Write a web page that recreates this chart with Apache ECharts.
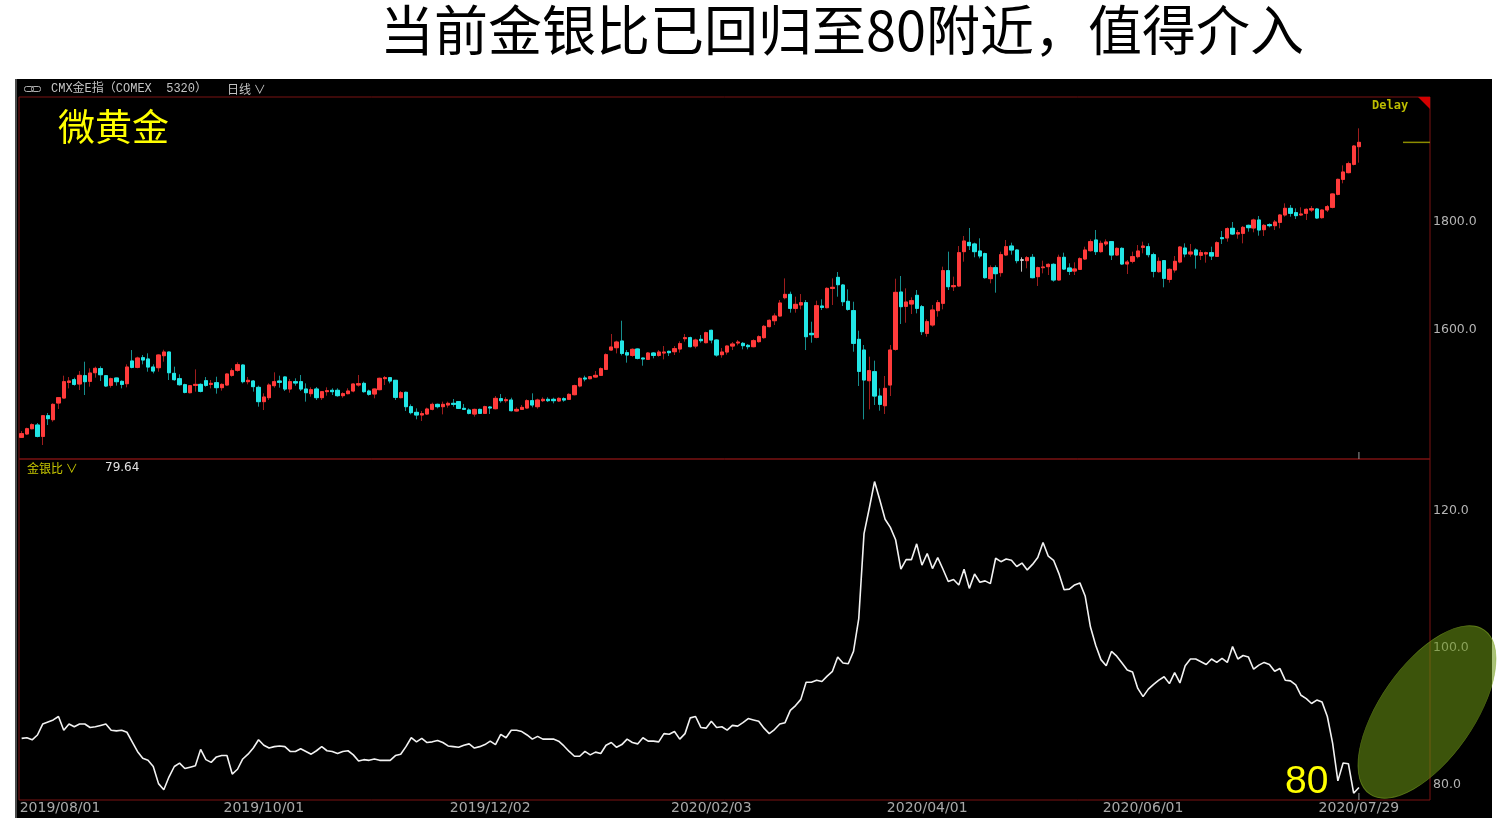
<!DOCTYPE html>
<html><head><meta charset="utf-8">
<script src="https://cdn.jsdelivr.net/npm/echarts@6/dist/echarts.min.js"></script>
<style>html,body{margin:0;padding:0;background:#fff;}#c{width:1499px;height:822px;}</style>
</head><body><div id="c"></div>
<script>
// ---- Data ----
const titleText = '当前金银比已回归至80附近，值得介入';
const labelDates = ['2019/08/01','2019/10/01','2019/12/02','2020/02/03','2020/04/01','2020/06/01','2020/07/29'];
const holidays = ['2019/09/02','2019/11/28','2019/12/25','2020/01/01','2020/01/20','2020/02/17','2020/04/10','2020/05/25','2020/07/03'];
const priceTicks = [1600, 1800];
const ratioTicks = [80, 100, 120];

const opens = [
1401.2,1407.4,1417.2,1424.0,1403.0,1441.3,1433.9,1464.8,1474.0,1503.0,
1508.0,1500.0,1515.4,1504.9,1520.9,1528.4,1515.4,1497.5,1511.1,1504.9,
1500.6,1542.6,1530.8,1548.7,1546.3,1531.4,1530.2,1552.4,1559.2,1519.7,
1509.8,1498.7,1483.9,1497.5,1499.3,1506.1,1499.3,1502.4,1493.2,1498.1,
1516.0,1525.3,1535.1,1504.3,1505.5,1493.8,1467.3,1474.7,1496.9,1505.5,
1513.0,1490.7,1504.3,1504.3,1490.7,1482.1,1490.7,1474.7,1485.8,1488.3,
1488.3,1478.4,1482.1,1487.0,1498.1,1501.2,1487.0,1481.5,1489.5,1509.9,
1511.7,1506.8,1474.7,1484.6,1458.0,1447.5,1442.6,1444.4,1453.1,1462.3,
1458.0,1461.1,1464.2,1467.3,1454.9,1451.8,1444.4,1453.0,1445.6,1457.4,
1454.3,1472.8,1469.1,1470.3,1450.0,1453.0,1455.5,1469.1,1458.0,1469.1,
1471.6,1471.6,1468.5,1472.8,1471.6,1480.2,1496.3,1511.1,1509.8,1512.9,
1516.0,1527.1,1562.9,1567.2,1579.6,1558.0,1553.0,1564.8,1548.1,1545.6,
1557.4,1553.0,1557.4,1560.5,1559.8,1564.8,1583.9,1585.8,1570.3,1582.7,
1576.5,1599.4,1581.4,1554.3,1559.2,1570.3,1575.9,1575.3,1571.6,1569.1,
1578.4,1585.8,1606.2,1617.2,1625.9,1659.8,1666.0,1640.1,1646.3,1650.6,
1593.8,1586.4,1644.4,1641.3,1677.1,1697.5,1683.3,1653.1,1635.8,1582.7,
1562.9,1506.1,1522.8,1477.7,1459.8,1498.1,1564.2,1670.3,1643.8,1648.1,
1664.2,1643.2,1593.8,1609.3,1635.8,1649.4,1709.9,1680.2,1681.5,1745.1,
1762.3,1759.3,1746.3,1741.4,1695.1,1715.4,1706.2,1738.9,1755.5,1748.1,
1729.6,1728.4,1734.6,1698.8,1715.4,1717.3,1721.6,1692.6,1734.6,1714.8,
1709.2,1712.3,1731.5,1746.9,1766.7,1745.1,1759.3,1763.6,1738.9,1751.2,
1722.2,1727.2,1735.8,1753.1,1754.3,1739.5,1708.0,1728.4,1693.8,1711.1,
1725.9,1751.8,1740.7,1748.2,1738.3,1740.7,1743.2,1736.4,1771.0,1770.4,
1788.3,1777.8,1779.0,1793.8,1788.9,1803.7,1785.8,1795.1,1793.2,1799.4,
1813.0,1825.3,1817.3,1813.0,1816.1,1822.2,1824.1,1808.0,1822.2,1827.2,
1851.2,1879.0,1891.4,1906.8,1939.5
];
const closes = [
1408.0,1417.2,1424.7,1403.0,1441.3,1435.8,1462.3,1474.7,1504.3,1505.5,
1499.3,1516.0,1504.3,1520.3,1529.0,1517.2,1496.3,1509.8,1504.3,1499.3,
1531.4,1530.8,1548.1,1544.4,1531.4,1524.0,1553.7,1559.2,1520.9,1508.0,
1498.7,1484.5,1496.9,1499.3,1486.4,1497.5,1501.2,1493.2,1499.3,1518.5,
1524.7,1535.8,1504.3,1506.8,1495.1,1467.3,1475.9,1498.1,1504.3,1503.1,
1490.7,1504.3,1501.8,1490.7,1483.9,1489.5,1474.7,1485.8,1487.6,1485.8,
1478.4,1482.1,1487.0,1500.0,1500.6,1485.8,1480.9,1490.7,1510.5,1511.7,
1505.5,1475.3,1483.9,1458.0,1446.9,1442.6,1445.1,1453.7,1462.3,1458.0,
1462.3,1464.2,1462.3,1454.9,1453.1,1445.7,1453.0,1445.6,1458.0,1455.5,
1473.4,1469.1,1470.9,1450.6,1453.0,1456.7,1469.1,1461.1,1470.3,1471.6,
1469.1,1469.1,1473.4,1470.3,1480.8,1496.9,1510.5,1509.2,1513.5,1516.0,
1528.4,1554.3,1568.5,1577.7,1556.7,1553.7,1564.2,1547.5,1546.3,1557.4,
1553.0,1559.2,1559.2,1558.0,1565.4,1574.7,1585.8,1569.1,1581.4,1580.2,
1595.0,1581.4,1553.7,1559.2,1570.3,1574.0,1577.7,1571.0,1569.1,1580.2,
1587.6,1606.8,1617.9,1625.9,1650.0,1666.0,1640.1,1647.5,1650.6,1587.6,
1591.3,1645.0,1641.9,1677.1,1679.0,1683.9,1652.4,1638.2,1575.3,1523.4,
1507.4,1524.7,1477.7,1462.3,1491.9,1562.9,1669.7,1643.2,1651.8,1654.3,
1640.1,1596.9,1615.4,1637.0,1650.6,1709.9,1680.2,1682.1,1743.2,1764.8,
1756.2,1745.1,1737.0,1696.9,1715.4,1704.3,1739.5,1754.3,1748.1,1728.4,
1729.6,1733.9,1696.9,1715.4,1716.7,1721.6,1692.6,1734.6,1712.9,1708.6,
1713.0,1732.1,1748.1,1763.6,1745.1,1760.5,1763.0,1738.9,1751.2,1722.2,
1725.9,1735.8,1746.3,1755.5,1739.5,1708.6,1727.2,1695.7,1712.3,1727.2,
1753.7,1740.7,1744.4,1738.9,1743.2,1743.2,1737.0,1761.7,1769.1,1787.7,
1777.8,1780.3,1790.1,1789.5,1803.7,1785.2,1793.8,1793.2,1800.0,1813.0,
1825.3,1816.1,1811.8,1814.8,1823.5,1824.7,1807.4,1822.2,1828.4,1851.9,
1879.0,1892.6,1908.0,1940.7,1947.5
];
const lows = [
1400.0,1405.5,1416.0,1401.2,1387.0,1424.0,1430.2,1453.7,1473.4,1491.9,
1496.9,1488.8,1479.6,1495.0,1511.7,1505.5,1494.4,1493.2,1496.9,1491.9,
1493.8,1529.0,1529.0,1536.4,1522.8,1519.7,1522.8,1541.3,1507.4,1506.1,
1496.9,1482.7,1482.7,1485.8,1484.5,1495.0,1491.9,1482.1,1487.6,1496.9,
1513.5,1522.8,1501.2,1499.4,1485.8,1458.0,1451.8,1470.4,1493.2,1493.2,
1487.0,1483.9,1496.9,1487.0,1467.3,1476.5,1470.4,1470.4,1478.4,1479.6,
1476.5,1474.7,1480.9,1484.6,1495.1,1483.9,1478.4,1473.5,1488.3,1498.1,
1501.2,1470.4,1473.5,1450.0,1443.8,1434.6,1431.5,1442.6,1451.2,1454.9,
1443.8,1456.2,1458.0,1453.7,1451.8,1443.8,1439.5,1444.4,1444.4,1444.4,
1453.0,1465.4,1465.4,1449.3,1448.7,1451.8,1454.3,1456.7,1454.3,1466.6,
1466.6,1464.2,1466.6,1467.2,1470.3,1479.0,1493.8,1504.9,1508.6,1511.7,
1514.8,1525.9,1561.7,1556.7,1553.0,1539.5,1550.6,1545.6,1533.9,1544.4,
1547.5,1550.6,1545.6,1551.8,1553.7,1558.0,1578.4,1567.9,1566.0,1576.5,
1575.3,1575.3,1550.6,1548.7,1554.3,1562.9,1571.6,1564.2,1564.2,1567.9,
1576.5,1583.9,1604.9,1609.2,1624.7,1656.8,1632.1,1632.1,1638.2,1562.9,
1576.5,1584.5,1637.0,1640.1,1646.3,1661.7,1644.4,1635.8,1559.8,1496.3,
1434.5,1453.0,1461.1,1450.6,1444.4,1477.7,1561.7,1611.1,1613.5,1629.6,
1630.8,1590.7,1587.6,1606.2,1624.7,1638.3,1674.1,1672.2,1680.2,1726.5,
1748.1,1734.6,1732.7,1695.1,1686.4,1669.1,1698.8,1737.0,1739.5,1723.5,
1708.0,1714.2,1695.7,1681.5,1704.9,1701.8,1689.5,1691.4,1711.1,1701.8,
1701.8,1711.1,1729.6,1745.1,1738.9,1743.2,1755.5,1729.6,1737.0,1720.4,
1703.7,1723.5,1732.7,1742.0,1734.6,1697.5,1706.2,1679.0,1687.7,1706.2,
1723.5,1734.6,1735.8,1713.6,1729.6,1724.7,1729.6,1735.2,1759.3,1763.6,
1775.9,1769.1,1760.5,1782.1,1780.9,1774.7,1774.1,1790.1,1785.2,1788.3,
1809.9,1809.9,1805.6,1811.1,1803.7,1818.5,1805.6,1806.2,1818.5,1825.3,
1849.4,1871.6,1890.1,1904.9,1909.9
];
const highs = [
1412.9,1419.1,1427.1,1427.7,1442.6,1446.3,1464.2,1475.9,1515.4,1512.9,
1511.7,1524.0,1541.3,1529.0,1532.1,1532.7,1516.6,1511.7,1511.7,1506.7,
1536.4,1562.9,1550.6,1553.7,1556.8,1536.4,1554.9,1563.5,1559.8,1532.1,
1517.9,1500.6,1498.1,1527.1,1501.2,1512.9,1507.4,1513.5,1501.2,1519.7,
1529.0,1540.1,1536.4,1513.0,1507.4,1496.9,1482.7,1501.2,1521.6,1515.4,
1514.2,1509.3,1510.5,1516.7,1501.2,1493.8,1494.4,1487.0,1493.8,1492.0,
1492.0,1484.6,1492.0,1501.2,1516.7,1504.3,1489.5,1492.0,1511.7,1514.8,
1513.0,1507.4,1487.0,1485.8,1462.3,1454.9,1450.0,1456.2,1465.4,1463.6,
1467.3,1467.3,1472.2,1468.5,1462.9,1454.9,1454.3,1454.3,1459.8,1459.2,
1477.7,1481.4,1475.3,1474.6,1456.7,1461.1,1471.6,1482.7,1472.8,1475.3,
1475.3,1474.6,1475.3,1475.3,1482.7,1498.7,1512.3,1515.4,1514.8,1524.0,
1530.8,1556.7,1592.6,1580.2,1617.2,1562.9,1566.0,1566.0,1548.7,1559.2,
1559.2,1562.9,1570.3,1561.7,1570.3,1579.0,1592.6,1587.6,1583.9,1590.7,
1596.9,1600.6,1582.7,1566.6,1571.6,1577.7,1581.4,1577.7,1574.0,1582.7,
1590.1,1609.2,1619.7,1630.8,1655.5,1695.6,1671.0,1661.7,1666.6,1655.5,
1615.4,1654.3,1656.8,1679.0,1695.6,1707.4,1685.2,1675.3,1652.4,1598.7,
1572.2,1550.6,1543.2,1491.9,1514.8,1572.2,1695.0,1700.0,1677.1,1660.5,
1674.0,1646.3,1619.7,1646.3,1655.5,1717.3,1745.1,1698.8,1755.5,1774.1,
1788.9,1761.7,1769.8,1743.2,1719.7,1719.7,1745.1,1766.7,1761.7,1749.4,
1734.6,1737.0,1740.7,1717.3,1728.4,1723.5,1723.5,1739.5,1743.2,1723.5,
1725.3,1734.6,1754.3,1767.9,1785.2,1765.4,1767.9,1764.8,1753.1,1753.1,
1729.6,1745.1,1757.4,1763.6,1760.5,1743.2,1734.6,1729.6,1714.2,1737.0,
1755.5,1760.5,1759.3,1751.2,1748.2,1745.1,1754.3,1764.2,1783.3,1790.1,
1800.0,1785.2,1792.6,1795.1,1806.2,1811.1,1796.3,1797.5,1803.7,1814.8,
1834.6,1831.5,1825.3,1827.2,1825.3,1829.6,1825.9,1823.5,1831.5,1853.1,
1880.3,1904.9,1911.7,1942.6,1973.5
];
// 金银比 (gold / silver ratio)
const ratio = [
86.8,86.9,86.6,87.3,88.9,89.2,89.5,90.0,88.0,88.9,
88.5,88.9,88.9,88.4,88.5,88.7,88.9,88.0,87.9,88.0,
87.7,86.3,84.9,83.9,83.6,82.7,80.2,79.3,81.2,82.7,
83.2,82.4,82.6,82.8,85.2,83.7,83.3,84.1,84.3,84.3,
81.6,82.3,83.8,84.5,85.4,86.6,85.8,85.4,85.6,85.7,
85.6,84.9,84.9,85.3,84.9,84.5,85.0,85.6,85.0,84.9,
84.6,84.9,85.0,84.4,83.5,83.7,83.6,83.8,83.6,83.6,
83.6,84.3,84.5,85.6,86.9,86.3,86.8,86.2,86.3,86.5,
86.2,85.7,85.6,85.5,85.8,86.0,85.4,85.6,85.9,86.4,
85.9,87.4,86.9,88.0,88.0,87.8,87.3,86.7,87.1,86.7,
86.7,86.7,86.4,85.7,84.9,84.2,84.2,84.9,84.4,84.8,
84.6,85.8,86.2,85.5,85.9,86.7,86.2,86.0,86.9,86.4,
86.4,86.3,87.5,87.4,87.8,86.7,87.5,89.8,90.0,88.4,
88.3,89.3,88.4,88.5,88.0,88.7,88.6,89.1,89.7,89.5,
89.3,88.3,87.5,88.1,88.9,89.1,90.9,91.6,92.5,95.0,
95.0,95.3,95.1,95.9,96.6,98.7,97.8,97.7,99.5,104.3,
116.7,120.4,124.3,121.6,118.8,117.6,115.8,111.5,112.9,112.9,
115.2,112.1,113.8,111.6,113.2,111.5,109.7,110.0,109.2,111.5,
108.7,110.8,109.6,109.8,109.4,113.1,112.6,113.0,112.8,111.9,
112.4,111.4,112.2,113.2,115.4,113.4,112.8,110.9,108.5,108.6,
109.2,109.5,107.6,103.1,100.4,98.3,97.4,99.5,98.8,97.8,
96.8,96.5,94.1,92.9,94.0,94.7,95.3,95.8,94.8,96.4,
94.9,97.4,98.4,98.4,98.0,97.6,98.4,97.9,98.5,97.9,
100.2,98.4,98.9,98.7,96.9,97.5,97.9,97.6,96.6,97.0,
95.3,95.2,94.6,93.1,92.6,91.9,92.4,92.1,90.0,86.1,
80.6,83.2,83.1,78.8,79.64
];

// ---- trading-day categories (weekdays without exchange holidays) ----
function fmt(d){const m=d.getUTCMonth()+1, dd=d.getUTCDate();return d.getUTCFullYear()+'/'+(m<10?'0':'')+m+'/'+(dd<10?'0':'')+dd;}
const dates = [];
for (let t = Date.UTC(2019,6,26); t <= Date.UTC(2020,6,29); t += 86400000) {
  const d = new Date(t), wd = d.getUTCDay();
  if (wd === 0 || wd === 6) continue;
  const s = fmt(d);
  if (holidays.indexOf(s) >= 0) continue;
  dates.push(s);
}
const n = opens.length;
const cats = dates.slice(0, n).map(function (s) {
  return s === labelDates[0] ? {value: s, textStyle: {align: 'left', padding: [0, 0, 0, -23]}} : s;
});
for (let k = 0; k < 13; k++) cats.push('pad' + k);

const wickData = opens.map(function (o, i) { return [o, closes[i], lows[i], highs[i]]; });
const bodyData = opens.map(function (o, i) { return [o, closes[i], Math.min(o, closes[i]), Math.max(o, closes[i])]; });

const chart = echarts.init(document.getElementById('c'), null, {renderer: 'canvas'});
const GRID_L = 19, GRID_R = 69;
const xBase = {
  type: 'category', data: cats, boundaryGap: true,
  axisLine: {show: false}, axisTick: {show: false}, splitLine: {show: false}
};
const option = {
  animation: false,
  backgroundColor: '#ffffff',
  grid: [
    {left: GRID_L, right: GRID_R, top: 97, height: 362, show: true, borderColor: '#7a1212', borderWidth: 1},
    {left: GRID_L, right: GRID_R, top: 459, height: 341, show: true, borderColor: '#7a1212', borderWidth: 1}
  ],
  xAxis: [
    Object.assign({}, xBase, {gridIndex: 0, axisLabel: {show: false}}),
    Object.assign({}, xBase, {gridIndex: 1, axisLabel: {
      show: true, color: '#a8a8a8', fontSize: 14, fontFamily: 'DejaVu Sans', margin: 1,
      interval: function (idx, val) { return labelDates.indexOf(val) >= 0; }
    }})
  ],
  yAxis: [
    {type: 'value', gridIndex: 0, position: 'right', min: 1361.1, max: 2031.5,
     axisLine: {show: false}, axisTick: {show: false}, splitLine: {show: false},
     axisLabel: {customValues: priceTicks, formatter: function (v) { return v.toFixed(1); },
       color: '#b4b4b4', fontSize: 12.5, fontFamily: 'DejaVu Sans', margin: 3}},
    {type: 'value', gridIndex: 1, position: 'right', min: 77.81, max: 127.59,
     axisLine: {show: false}, axisTick: {show: false}, splitLine: {show: false},
     axisLabel: {customValues: ratioTicks, formatter: function (v) { return v.toFixed(1); },
       color: '#b4b4b4', fontSize: 12.5, fontFamily: 'DejaVu Sans', margin: 3}}
  ],
  series: [
    {type: 'candlestick', name: 'wick', xAxisIndex: 0, yAxisIndex: 0, data: wickData, barWidth: 3.8, silent: true,
     itemStyle: {color: '#9e1d1d', color0: '#168f8f', borderColor: '#9e1d1d', borderColor0: '#168f8f', borderColorDoji: '#bdbdbd', borderWidth: 1}},
    {type: 'candlestick', name: 'CMX金E指', xAxisIndex: 0, yAxisIndex: 0, data: bodyData, barWidth: 3.8, silent: true,
     itemStyle: {color: '#ff3b3b', color0: '#22e6e6', borderColor: '#ff3b3b', borderColor0: '#22e6e6', borderColorDoji: '#dcdcdc', borderWidth: 1}},
    {type: 'line', name: '金银比', xAxisIndex: 1, yAxisIndex: 1, data: ratio, symbol: 'none', silent: true,
     lineStyle: {color: '#f2f2f2', width: 1.6}, itemStyle: {color: '#f2f2f2'}}
  ],
  graphic: [
    {type: 'rect', z: -10, silent: true, shape: {x: 15, y: 79, width: 1477, height: 739}, style: {fill: '#000000'}},
    {type: 'rect', z: -9, silent: true, shape: {x: 15, y: 79, width: 2, height: 739}, style: {fill: '#4a4a4a'}},
    {type: 'text', z: 50, silent: true, x: 842, y: 30, style: {text: titleText, fill: '#000', font: '54px "Noto Sans CJK SC"', textAlign: 'center', textVerticalAlign: 'middle'}},
    {type: 'rect', z: 50, silent: true, shape: {x: 24.5, y: 86.5, width: 9, height: 5, r: 2}, style: {fill: 'none', stroke: '#b0b0b0', lineWidth: 1}},
    {type: 'rect', z: 50, silent: true, shape: {x: 31.5, y: 86.5, width: 9, height: 5, r: 2}, style: {fill: 'none', stroke: '#b0b0b0', lineWidth: 1}},
    {type: 'text', z: 50, silent: true, x: 51, y: 89, style: {text: 'CMX金E指（COMEX  5320）', fill: '#c4c4c4', font: '12px "Liberation Mono", "Noto Sans CJK SC"', textVerticalAlign: 'middle'}},
    {type: 'text', z: 50, silent: true, x: 227, y: 89, style: {text: '日线 ∨', fill: '#c4c4c4', font: '12px "Noto Sans CJK SC"', textVerticalAlign: 'middle'}},
    {type: 'text', z: 50, silent: true, x: 58, y: 127, style: {text: '微黄金', fill: '#ffff00', font: '37px "Noto Sans CJK SC"', textVerticalAlign: 'middle'}},
    {type: 'text', z: 50, silent: true, x: 1372, y: 106, style: {text: 'Delay', fill: '#bcbc00', font: 'bold 12px "DejaVu Sans Mono"', textVerticalAlign: 'middle'}},
    {type: 'polygon', z: 50, silent: true, shape: {points: [[1418, 97], [1430, 97], [1430, 109]]}, style: {fill: '#d40000'}},
    {type: 'text', z: 50, silent: true, x: 27, y: 468, style: {text: '金银比 ∨', fill: '#c8c800', font: '12px "Noto Sans CJK SC"', textVerticalAlign: 'middle'}},
    {type: 'text', z: 50, silent: true, x: 105, y: 468, style: {text: ratio[ratio.length - 1].toFixed(2), fill: '#e0e0e0', font: '12px "DejaVu Sans"', textVerticalAlign: 'middle'}},
    {type: 'text', z: 60, silent: true, x: 1285, y: 782, style: {text: '80', fill: '#ffff00', font: '39px "Liberation Sans"', textVerticalAlign: 'middle'}},
    {type: 'circle', z: 70, silent: true, x: 1427, y: 712, scaleX: 0.47, scaleY: 1, rotation: -0.61,
     shape: {cx: 0, cy: 0, r: 100}, style: {fill: 'rgba(106,148,20,0.57)', stroke: 'rgba(130,170,35,0.6)', lineWidth: 1}}
  ]
};
chart.setOption(option);

// current-price marker and last-bar ticks positioned through the chart's own scales
const lastY = chart.convertToPixel({yAxisIndex: 0}, closes[n - 1]);
const lastX = chart.convertToPixel({xAxisIndex: 0}, n - 1);
chart.setOption({graphic: option.graphic.concat([
  {type: 'line', z: 50, silent: true, shape: {x1: 1403, y1: lastY, x2: 1430, y2: lastY}, style: {stroke: '#8c8c00', lineWidth: 1.5}},
  {type: 'line', z: 50, silent: true, shape: {x1: lastX, y1: 452, x2: lastX, y2: 459}, style: {stroke: '#9a9a9a', lineWidth: 1}},
  {type: 'line', z: 50, silent: true, shape: {x1: lastX, y1: 793, x2: lastX, y2: 800}, style: {stroke: '#9a9a9a', lineWidth: 1}}
])});
</script>
</body></html>
